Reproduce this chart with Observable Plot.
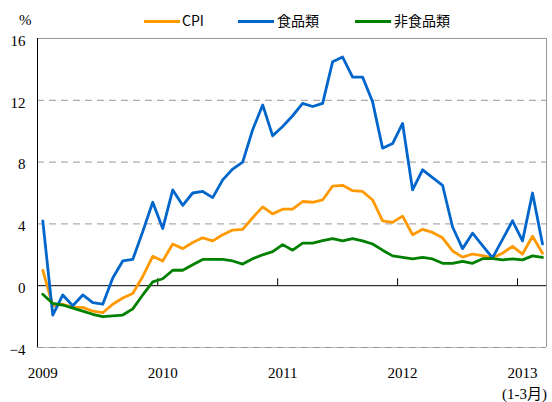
<!DOCTYPE html>
<html><head><meta charset="utf-8">
<script src="https://cdn.jsdelivr.net/npm/d3@7"></script>
<script src="https://cdn.jsdelivr.net/npm/@observablehq/plot@0.6"></script>
<style>
body{margin:0;background:#fff;}
#wrap{position:relative;width:552px;height:402px;overflow:hidden;}
#head{position:relative;height:30px;}
.unit{position:absolute;left:19px;top:12px;font:15px "Liberation Serif",serif;line-height:16px;color:#000;}
.sw{position:absolute;height:3px;top:19.5px;}
.lt{position:absolute;top:12px;font:14px "Noto Sans CJK JP",sans-serif;line-height:16px;color:#000;}
#note{position:absolute;right:5px;top:386px;font:15px "Liberation Serif","Noto Sans CJK JP",serif;line-height:16px;color:#000;z-index:2;white-space:nowrap;}
#chart svg{display:block;}
</style></head>
<body><div id="wrap"><div id="head"></div><div id="chart"></div><div id="note"></div></div>
<script>
// Monthly, Jan 2009 – Mar 2013 (year-on-year %)
const yearLabels = ["2009","2010","2011","2012","2013"];
const periodNote = "(1-3月)";
const seriesNames = ["CPI","食品類","非食品類"];
const seriesColors = ["#FF9900","#0066CC","#008000"];
const cpi = [1.0,-1.3,-1.2,-1.4,-1.4,-1.65,-1.75,-1.2,-0.8,-0.5,0.6,1.9,
  1.6,2.7,2.4,2.8,3.1,2.9,3.3,3.6,3.65,4.4,5.1,4.65,
  4.95,4.95,5.45,5.4,5.55,6.45,6.5,6.15,6.1,5.55,4.2,4.1,
  4.5,3.3,3.65,3.45,3.1,2.25,1.85,2.05,1.95,1.8,2.1,2.55,
  2.05,3.2,2.1];
const food = [4.2,-1.9,-0.6,-1.3,-0.6,-1.1,-1.2,0.5,1.6,1.7,3.5,5.4,
  3.7,6.2,5.2,6.0,6.1,5.7,6.85,7.55,8.0,10.1,11.7,9.7,
  10.3,11.0,11.8,11.6,11.8,14.5,14.8,13.5,13.5,11.9,8.9,9.2,
  10.5,6.2,7.5,7.0,6.5,3.8,2.4,3.4,2.6,1.8,3.0,4.2,
  2.9,6.0,2.7];
const nonFood = [-0.55,-1.15,-1.25,-1.45,-1.65,-1.85,-2.0,-1.95,-1.9,-1.5,-0.6,0.25,
  0.45,1.0,1.0,1.35,1.7,1.7,1.7,1.6,1.4,1.75,2.0,2.2,
  2.66,2.3,2.75,2.75,2.92,3.05,2.9,3.05,2.9,2.7,2.3,1.93,
  1.84,1.73,1.84,1.73,1.45,1.45,1.58,1.45,1.75,1.75,1.67,1.73,
  1.67,1.93,1.84];
const yTicks = [-4,0,4,8,12,16];
const gridY = [4,8,12];
const yearStarts = [0,12,24,36,48];      // month index of each January
const yearBounds = [11.5,23.5,35.5,47.5]; // tick marks between years
const xDomain = [-0.53,50.4];

// header: unit + legend
const head = document.getElementById("head");
head.innerHTML = '<div class="unit">%</div>';
const legendPos = [[144,182],[238,277],[355,394]];
seriesNames.forEach((n,k)=>{
  const sw = document.createElement("div");
  sw.className="sw"; sw.style.left=legendPos[k][0]+"px"; sw.style.width="36px"; sw.style.background=seriesColors[k];
  head.appendChild(sw);
  const t = document.createElement("div");
  t.className="lt"; t.style.left=legendPos[k][1]+"px"; t.textContent=n;
  head.appendChild(t);
});
document.getElementById("note").textContent = periodNote;

const serif = "Liberation Serif, Times New Roman, serif";
const series = [cpi, food, nonFood];
const chart = Plot.plot({
  width:552, height:372,
  marginLeft:37, marginRight:6, marginTop:8, marginBottom:55,
  x:{domain:xDomain, axis:null},
  y:{domain:[-4,16], axis:null},
  marks:[
    Plot.ruleY([-4], {stroke:"#bbb", strokeWidth:1}),
    Plot.ruleY(gridY.concat([-4]), {stroke:"#999", strokeDasharray:"7,5", strokeWidth:1}),
    Plot.ruleY([16], {stroke:"#999", strokeWidth:1}),
    Plot.ruleX([xDomain[1]], {stroke:"#999", strokeWidth:1}),
    Plot.ruleY([0], {stroke:"#000", strokeWidth:1}),
    Plot.ruleX(yearBounds, {y1:0, y2:0.45, stroke:"#000", strokeWidth:1}),
    Plot.ruleX([xDomain[0]], {stroke:"#000", strokeWidth:1}),
    ...series.map((s,k)=>Plot.line(s, {x:(d,i)=>i, y:d=>d, stroke:seriesColors[k], strokeWidth:2.8})),
    Plot.axisY(yTicks, {tickSize:0, tickPadding:12, fontSize:15, fontFamily:serif, fill:"#000", dy:2.5}),
    Plot.text(yearStarts, {x:d=>d, y:-4, dy:26, text:(d,i)=>yearLabels[i], fontSize:15, fontFamily:serif, fill:"#000"})
  ]
});
document.getElementById("chart").appendChild(chart);
</script>
</body></html>
